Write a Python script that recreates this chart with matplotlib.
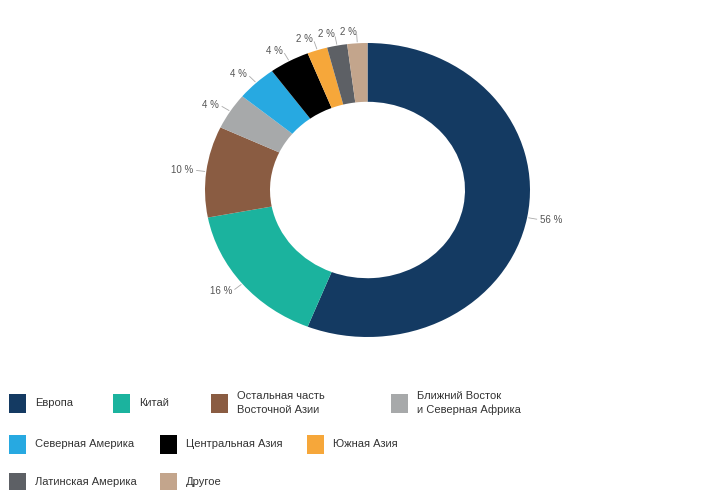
import numpy as np
import matplotlib.pyplot as plt
from matplotlib.patches import Rectangle

plt.rcParams['font.family'] = ['Liberation Sans', 'DejaVu Sans']

regions = ["Европа", "Китай", "Остальная часть\nВосточной Азии",
           "Ближний Восток\nи Северная Африка", "Северная Америка",
           "Центральная Азия", "Южная Азия", "Латинская Америка", "Другое"]
shares = [56, 16, 10, 4, 4, 4, 2, 2, 2]
colors = ["#143a62", "#1bb39e", "#8a5c42", "#a7a9aa", "#27a9e1",
          "#000000", "#f6a73a", "#5d6065", "#c3a58c"]

W, H = 724, 490
fig = plt.figure(figsize=(W / 100, H / 100), dpi=100)

# donut, slightly squashed vertically like the reference
cx, cy, rx, ry = 367.5, 190, 162.5, 147
ax = fig.add_axes([(cx - 1.25 * rx) / W, (H - cy - 1.25 * ry) / H,
                   2.5 * rx / W, 2.5 * ry / H])
wedges, _ = ax.pie(shares, colors=colors, startangle=90, counterclock=False,
                   wedgeprops=dict(width=0.4, linewidth=0))
ax.set_aspect('auto')
ax.set_xlim(-1.25, 1.25)
ax.set_ylim(-1.25, 1.25)

for w, v in zip(wedges, shares):
    ang = np.deg2rad((w.theta1 + w.theta2) / 2)
    c, s = np.cos(ang), np.sin(ang)
    ax.plot([1.01 * c, 1.06 * c], [1.01 * s, 1.06 * s], color="#aaaaaa", lw=0.6)
    ax.text(1.08 * c, 1.08 * s, f"{v} %", ha='left' if c > 0 else 'right',
            va='center', fontsize=7, color="#555555")

# legend laid out like the original
leg_pos = [(9, 403), (113, 403), (211, 403), (391, 403),
           (9, 444), (160, 444), (307, 444),
           (9, 482), (160, 482)]
sq_w, sq_h = 17, 19
for (x, y), name, col in zip(leg_pos, regions, colors):
    fig.add_artist(Rectangle((x / W, (H - y - sq_h / 2) / H), sq_w / W, sq_h / H,
                             transform=fig.transFigure, color=col, lw=0))
    fig.text((x + sq_w + 9) / W, (H - y) / H, name, ha='left', va='center',
             fontsize=8, color="#333333", linespacing=1.4)

fig.savefig("out.png", dpi=100)
